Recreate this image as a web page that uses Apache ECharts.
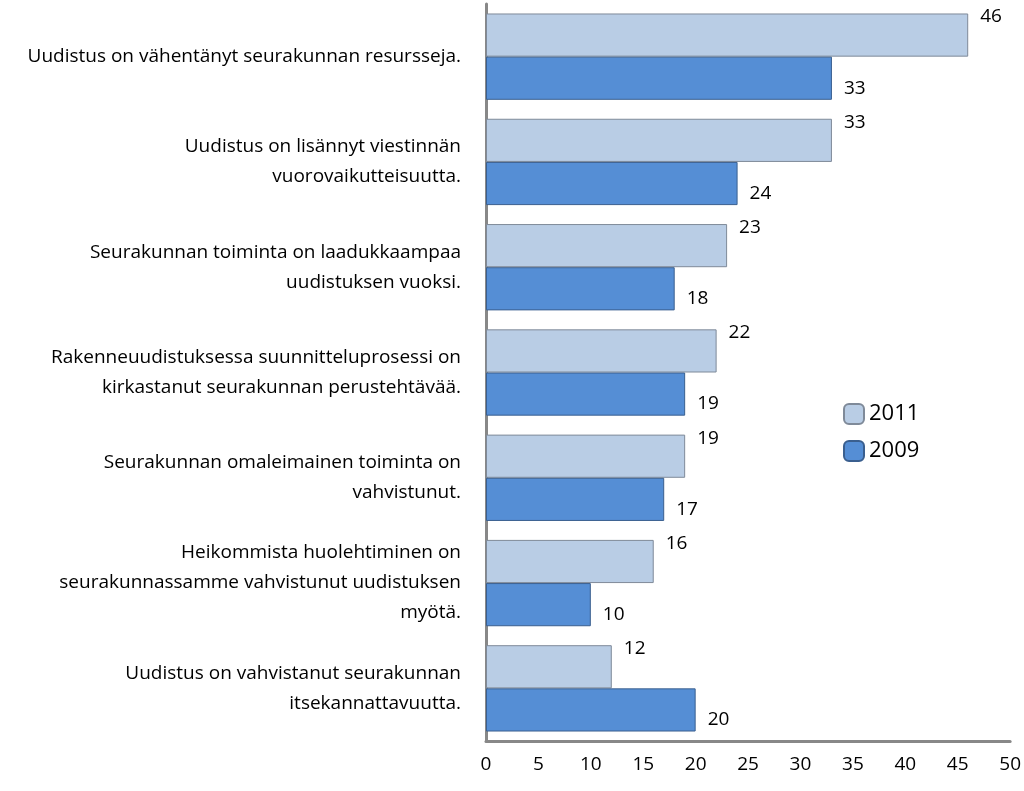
<!DOCTYPE html>
<html><head><meta charset="utf-8">
<script src="https://cdn.jsdelivr.net/npm/echarts@6/dist/echarts.min.js"></script>
<style>html,body{margin:0;padding:0;background:#fff}#c{width:1024px;height:791px}</style>
</head><body><div id="c"></div>
<script>
const categories = [
 "Uudistus on vähentänyt seurakunnan resursseja.",
 "Uudistus on lisännyt viestinnän\nvuorovaikutteisuutta.",
 "Seurakunnan toiminta on laadukkaampaa\nuudistuksen vuoksi.",
 "Rakenneuudistuksessa suunnitteluprosessi on\nkirkastanut seurakunnan perustehtävää.",
 "Seurakunnan omaleimainen toiminta on\nvahvistunut.",
 "Heikommista huolehtiminen on\nseurakunnassamme vahvistunut uudistuksen\nmyötä.",
 "Uudistus on vahvistanut seurakunnan\nitsekannattavuutta."
];
const values2011 = [46, 33, 23, 22, 19, 16, 12];
const values2009 = [33, 24, 18, 19, 17, 10, 20];
const F = "'Open Sans', 'Liberation Sans', sans-serif";
const chart = echarts.init(document.getElementById('c'));
chart.setOption({
  animation:false,
  grid:{left:486,right:11,top:4,bottom:50},
  legend:{orient:'vertical',left:838,top:398,itemWidth:20,itemHeight:20,itemGap:15,
    textStyle:{fontSize:22,fontFamily:F,color:'#000'},data:['2011','2009']},
  xAxis:{type:'value',min:0,max:50,interval:5,splitLine:{show:false},
    axisLine:{show:true,lineStyle:{color:'#888',width:3}},axisTick:{show:false},
    axisLabel:{fontSize:19,fontFamily:F,color:'#000',margin:14}},
  yAxis:{type:'category',inverse:true,data:categories,
    axisLine:{lineStyle:{color:'#888',width:3}},axisTick:{show:false},
    axisLabel:{fontSize:19,fontFamily:F,color:'#000',margin:25,align:'right',lineHeight:30}},
  series:[
    {name:'2011',type:'bar',data:values2011,barGap:'0%',barCategoryGap:'18%',
     itemStyle:{color:'#b9cde5',borderColor:'#7f8a99',borderWidth:1},
     label:{show:true,position:'right',distance:12,fontSize:19,fontFamily:F,color:'#000',offset:[0,-18]}},
    {name:'2009',type:'bar',data:values2009,
     itemStyle:{color:'#558ed5',borderColor:'#3a5f8f',borderWidth:1},
     label:{show:true,position:'right',distance:12,fontSize:19,fontFamily:F,color:'#000',offset:[0,10]}}
  ]
});
</script></body></html>
